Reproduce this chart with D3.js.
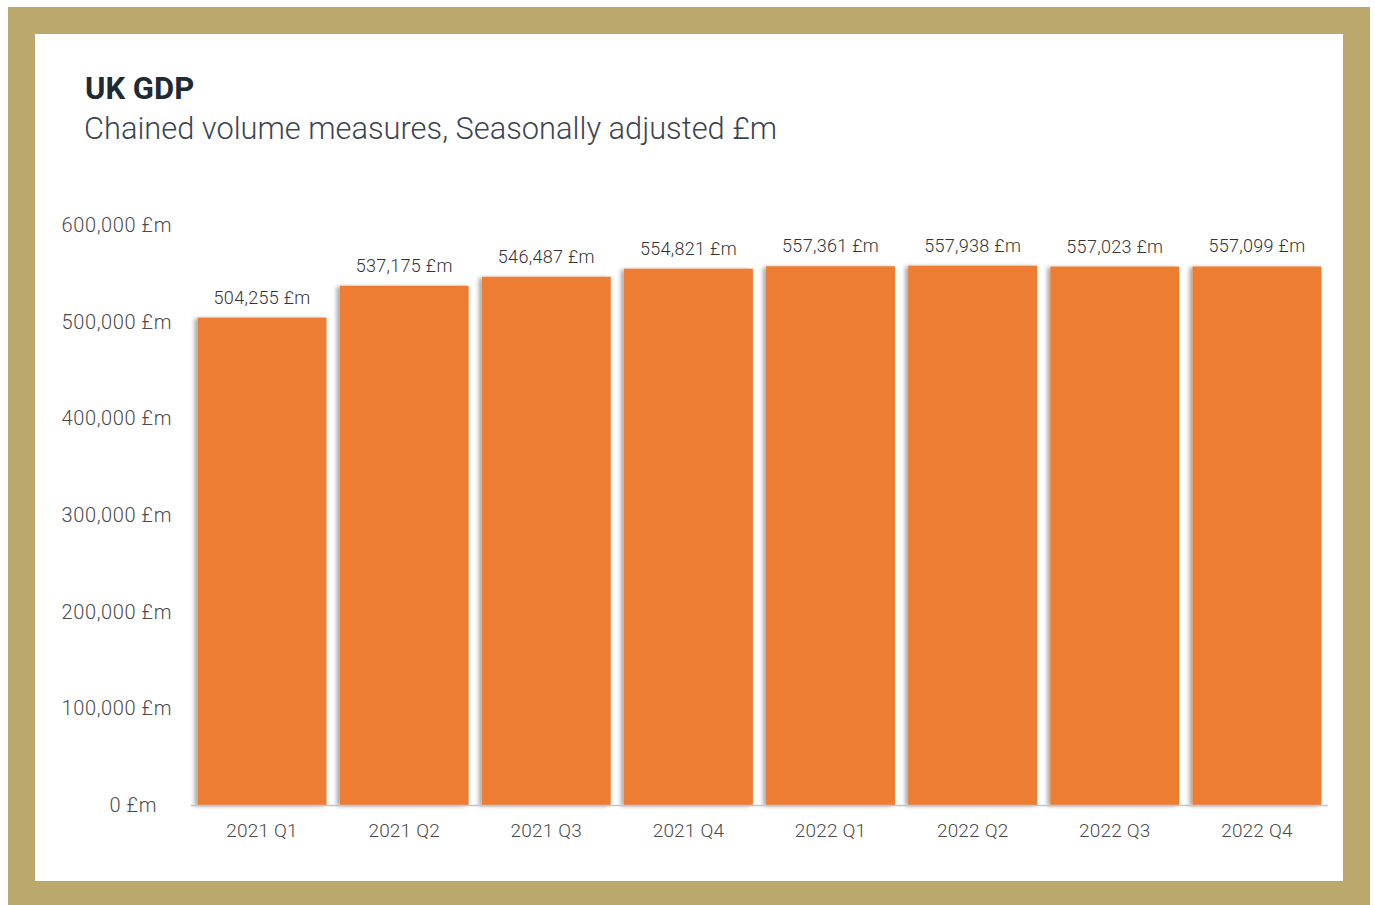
<!DOCTYPE html>
<html>
<head>
<meta charset="utf-8">
<script src="https://cdn.jsdelivr.net/npm/d3@7"></script>
<style>
  body { margin: 0; background: #fff; }
  svg { display: block; }
</style>
</head>
<body>
<div id="chart"></div>
<script>
// chart data
const quarters = ['2021 Q1', '2021 Q2', '2021 Q3', '2021 Q4', '2022 Q1', '2022 Q2', '2022 Q3', '2022 Q4'];
const gdpValues = [504255, 537175, 546487, 554821, 557361, 557938, 557023, 557099];
const yTicks = [0, 100000, 200000, 300000, 400000, 500000, 600000];

const W = 1375, H = 905;
const fmt = d3.format(',');

const svg = d3.select('#chart').append('svg')
    .attr('width', W)
    .attr('height', H);

// shadow for the bars
const defs = svg.append('defs');
const shadow = defs.append('filter')
    .attr('id', 'barShadow')
    .attr('x', '-10%').attr('y', '-5%')
    .attr('width', '120%').attr('height', '110%');
shadow.append('feDropShadow')
    .attr('dx', -3).attr('dy', 1)
    .attr('stdDeviation', 2)
    .attr('flood-color', '#000')
    .attr('flood-opacity', 0.35);

// gold frame + white card
svg.append('rect')
    .attr('x', 8).attr('y', 7)
    .attr('width', 1362).attr('height', H)
    .attr('fill', '#bba86d');
svg.append('rect')
    .attr('x', 35).attr('y', 34)
    .attr('width', 1308).attr('height', 847)
    .attr('fill', '#fff');

// titles
svg.append('text')
    .attr('x', 85).attr('y', 99)
    .attr('font-family', 'Roboto, sans-serif')
    .attr('font-weight', 700)
    .attr('font-size', 31)
    .attr('fill', '#1f2a37')
    .text('UK GDP');

svg.append('text')
    .attr('x', 84).attr('y', 139)
    .attr('font-family', 'Roboto, sans-serif')
    .attr('font-weight', 300)
    .attr('font-size', 30.8)
    .attr('fill', '#3b4552')
    .text('Chained volume measures, Seasonally adjusted £m');

// scales
const x = d3.scaleBand()
    .domain(quarters)
    .range([191, 1328])
    .paddingInner(0.093)
    .paddingOuter(0.0465);

const y = d3.scaleLinear()
    .domain([0, 600000])
    .range([805, 225]);

const chart = svg.append('g');

// y tick labels
chart.selectAll('.ytick')
    .data(yTicks)
    .enter().append('text')
    .attr('class', 'ytick')
    .attr('x', d => d === 0 ? 157 : 172)
    .attr('y', d => y(d))
    .attr('dy', '0.35em')
    .attr('text-anchor', 'end')
    .attr('font-family', 'Roboto, sans-serif')
    .attr('font-weight', 300)
    .attr('font-size', 20)
    .attr('letter-spacing', 0.6)
    .attr('fill', '#4a4a4a')
    .text(d => fmt(d) + ' £m');

// bars
chart.selectAll('.bar')
    .data(gdpValues)
    .enter().append('rect')
    .attr('class', 'bar')
    .attr('x', (d, i) => x(quarters[i]))
    .attr('y', d => y(d))
    .attr('width', x.bandwidth())
    .attr('height', d => y(0) - y(d))
    .attr('fill', '#ed7d31')
    .attr('filter', 'url(#barShadow)');

// baseline
chart.append('line')
    .attr('x1', 191).attr('x2', 1328)
    .attr('y1', y(0) + 0.5).attr('y2', y(0) + 0.5)
    .attr('stroke', '#c4c4c4')
    .attr('stroke-width', 1.5);

// value labels
chart.selectAll('.val')
    .data(gdpValues)
    .enter().append('text')
    .attr('class', 'val')
    .attr('x', (d, i) => x(quarters[i]) + x.bandwidth() / 2)
    .attr('y', d => y(d) - 14)
    .attr('text-anchor', 'middle')
    .attr('font-family', 'Roboto, sans-serif')
    .attr('font-weight', 300)
    .attr('font-size', 18)
    .attr('letter-spacing', 0.3)
    .attr('fill', '#333')
    .text(d => fmt(d) + ' £m');

// category labels
chart.selectAll('.cat')
    .data(quarters)
    .enter().append('text')
    .attr('class', 'cat')
    .attr('x', d => x(d) + x.bandwidth() / 2)
    .attr('y', 837)
    .attr('text-anchor', 'middle')
    .attr('font-family', 'Roboto, sans-serif')
    .attr('font-weight', 300)
    .attr('font-size', 19)
    .attr('letter-spacing', 0.2)
    .attr('fill', '#4a4a4a')
    .text(d => d);
</script>
</body>
</html>
